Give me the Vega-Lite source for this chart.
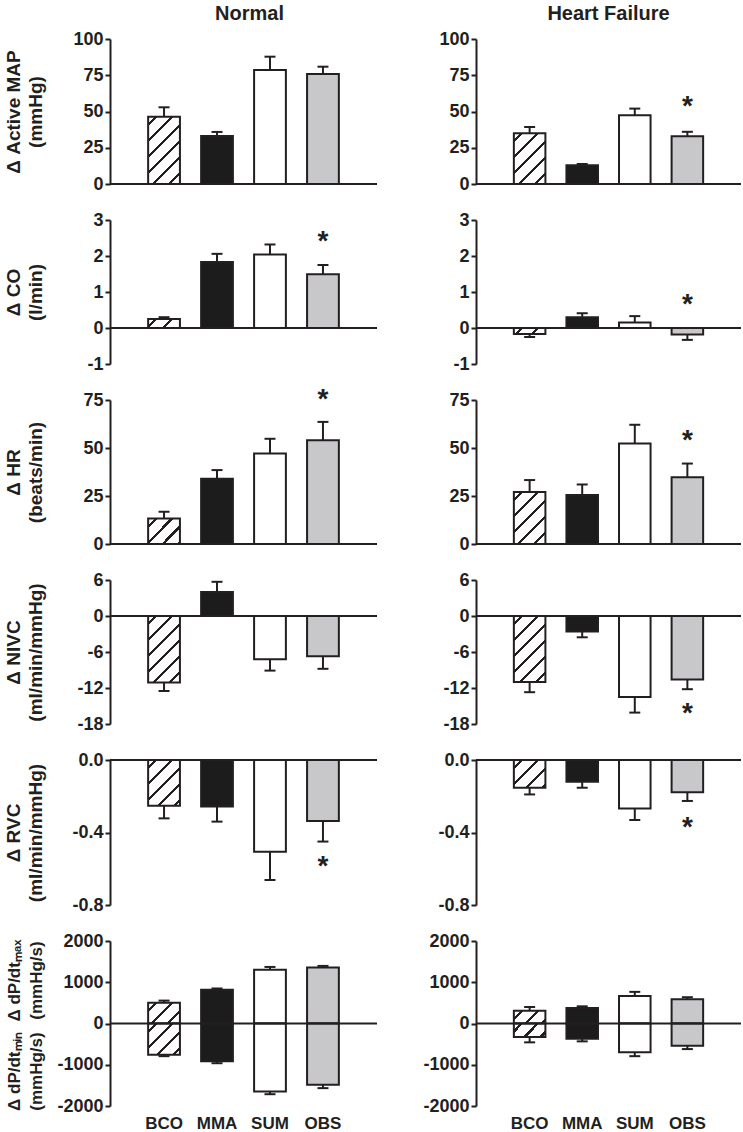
{
"$schema": "https://vega.github.io/schema/vega-lite/v6.json",
"background": "white",
"padding": {"left": 4, "top": 4, "right": 1, "bottom": 4},
"config": {
 "locale": {"number": {"decimal": ".", "thousands": ",", "grouping": [3], "currency": ["$", ""], "minus": "-"}},
 "view": {"stroke": null},
 "font": "Liberation Sans",
 "axis": {"domainColor": "#231f20", "domainWidth": 2, "tickColor": "#231f20", "tickWidth": 2, "tickSize": 5, "labelFont": "Liberation Sans", "labelFontSize": 18, "labelFontWeight": "bold", "labelColor": "#231f20", "labelPadding": 2, "labelOverlap": false, "labelFlush": false, "grid": false, "titleFont": "Liberation Sans", "titleFontSize": 19, "titleFontWeight": "bold", "titleColor": "#231f20", "titleLineHeight": 22, "titleX": -87},
 "title": {"font": "Liberation Sans", "fontSize": 20, "fontWeight": "bold", "color": "#231f20", "offset": 6, "anchor": "middle"}
},
"data": {"values": [
 {"r":"MAP","g":"N","c":"BCO","v":46.4,"e":52.9},{"r":"MAP","g":"N","c":"MMA","v":33.1,"e":35.9},{"r":"MAP","g":"N","c":"SUM","v":78.6,"e":87.8},{"r":"MAP","g":"N","c":"OBS","v":75.9,"e":80.9},
 {"r":"MAP","g":"H","c":"BCO","v":35,"e":39.3},{"r":"MAP","g":"H","c":"MMA","v":12.9,"e":13.8},{"r":"MAP","g":"H","c":"SUM","v":47.5,"e":52},{"r":"MAP","g":"H","c":"OBS","v":33,"e":36,"s":56},
 {"r":"CO","g":"N","c":"BCO","v":0.25,"e":0.3},{"r":"CO","g":"N","c":"MMA","v":1.83,"e":2.06},{"r":"CO","g":"N","c":"SUM","v":2.04,"e":2.32},{"r":"CO","g":"N","c":"OBS","v":1.49,"e":1.75,"s":2.51},
 {"r":"CO","g":"H","c":"BCO","v":-0.17,"e":-0.25},{"r":"CO","g":"H","c":"MMA","v":0.3,"e":0.41},{"r":"CO","g":"H","c":"SUM","v":0.15,"e":0.33},{"r":"CO","g":"H","c":"OBS","v":-0.18,"e":-0.33,"s":0.76},
 {"r":"HR","g":"N","c":"BCO","v":13.3,"e":16.8},{"r":"HR","g":"N","c":"MMA","v":34,"e":38.5},{"r":"HR","g":"N","c":"SUM","v":47.1,"e":54.8},{"r":"HR","g":"N","c":"OBS","v":54.1,"e":63.6,"s":77},
 {"r":"HR","g":"H","c":"BCO","v":27.1,"e":33.3},{"r":"HR","g":"H","c":"MMA","v":25.5,"e":31},{"r":"HR","g":"H","c":"SUM","v":52.4,"e":62.1},{"r":"HR","g":"H","c":"OBS","v":34.8,"e":41.9,"s":55.7},
 {"r":"NIVC","g":"N","c":"BCO","v":-11.1,"e":-12.5},{"r":"NIVC","g":"N","c":"MMA","v":4,"e":5.7},{"r":"NIVC","g":"N","c":"SUM","v":-7.2,"e":-9.1},{"r":"NIVC","g":"N","c":"OBS","v":-6.7,"e":-8.8},
 {"r":"NIVC","g":"H","c":"BCO","v":-11,"e":-12.7},{"r":"NIVC","g":"H","c":"MMA","v":-2.6,"e":-3.55},{"r":"NIVC","g":"H","c":"SUM","v":-13.5,"e":-16.1},{"r":"NIVC","g":"H","c":"OBS","v":-10.6,"e":-12.2,"s":-15.7},
 {"r":"RVC","g":"N","c":"BCO","v":-0.252,"e":-0.322},{"r":"RVC","g":"N","c":"MMA","v":-0.256,"e":-0.34},{"r":"RVC","g":"N","c":"SUM","v":-0.506,"e":-0.662},{"r":"RVC","g":"N","c":"OBS","v":-0.337,"e":-0.45,"s":-0.567},
 {"r":"RVC","g":"H","c":"BCO","v":-0.153,"e":-0.19},{"r":"RVC","g":"H","c":"MMA","v":-0.12,"e":-0.153},{"r":"RVC","g":"H","c":"SUM","v":-0.267,"e":-0.331},{"r":"RVC","g":"H","c":"OBS","v":-0.178,"e":-0.226,"s":-0.355},
 {"r":"DP","g":"N","p":"max","c":"BCO","v":506,"e":555},{"r":"DP","g":"N","p":"max","c":"MMA","v":816,"e":849},{"r":"DP","g":"N","p":"max","c":"SUM","v":1306,"e":1371},{"r":"DP","g":"N","p":"max","c":"OBS","v":1355,"e":1396},
 {"r":"DP","g":"N","p":"min","c":"BCO","v":-759,"e":-792},{"r":"DP","g":"N","p":"min","c":"MMA","v":-914,"e":-963},{"r":"DP","g":"N","p":"min","c":"SUM","v":-1649,"e":-1714},{"r":"DP","g":"N","p":"min","c":"OBS","v":-1486,"e":-1567},
 {"r":"DP","g":"H","p":"max","c":"BCO","v":310,"e":400},{"r":"DP","g":"H","p":"max","c":"MMA","v":376,"e":416},{"r":"DP","g":"H","p":"max","c":"SUM","v":669,"e":767},{"r":"DP","g":"H","p":"max","c":"OBS","v":588,"e":637},
 {"r":"DP","g":"H","p":"min","c":"BCO","v":-327,"e":-457},{"r":"DP","g":"H","p":"min","c":"MMA","v":-367,"e":-433},{"r":"DP","g":"H","p":"min","c":"SUM","v":-694,"e":-792},{"r":"DP","g":"H","p":"min","c":"OBS","v":-539,"e":-620}
]},
"columns": 2,
"bounds": "flush",
"spacing": {"row": 36, "column": 99},
"concat": [
 {"width": 267, "height": 145, "title": {"text": "Normal", "frame": "group", "dx": 6},
  "layer": [
   {"transform": [{"filter": "datum.r==='MAP' && datum.g==='N'"}],
    "encoding": {
     "x": {"field": "c", "type": "nominal", "sort": ["BCO","MMA","SUM","OBS"], "scale": {"paddingInner": 0.4, "paddingOuter": 0.72}, "axis": null},
     "y": {"field": "v", "type": "quantitative", "stack": null, "scale": {"domain": [0, 100], "nice": false, "zero": false}, "axis": {"values": [0,25,50,75,100], "tickCount": 20, "title": ["Δ Active MAP", "(mmHg)"]}}},
    "layer": [
     {"transform": [{"filter": "datum.c!=='BCO'"}], "mark": {"type": "bar", "stroke": "#231f20", "strokeWidth": 2}, "encoding": {"fill": {"field": "c", "type": "nominal", "scale": {"domain": ["MMA","SUM","OBS"], "range": ["#1c1c1c","#ffffff","#c8c8ca"]}, "legend": null}}},
     {"transform": [{"filter": "datum.c==='BCO'"}], "mark": {"type": "bar", "stroke": "#231f20", "strokeWidth": 2, "fill": {"gradient": "linear", "x1": 0, "y1": 0, "x2": 0.644, "y2": 1.359, "stops": [{"offset":0,"color":"#ffffff"},{"offset":0.0574,"color":"#ffffff"},{"offset":0.0574,"color":"#231f20"},{"offset":0.0854,"color":"#231f20"},{"offset":0.0854,"color":"#ffffff"},{"offset":0.2003,"color":"#ffffff"},{"offset":0.2003,"color":"#231f20"},{"offset":0.2283,"color":"#231f20"},{"offset":0.2283,"color":"#ffffff"},{"offset":0.3431,"color":"#ffffff"},{"offset":0.3431,"color":"#231f20"},{"offset":0.3711,"color":"#231f20"},{"offset":0.3711,"color":"#ffffff"},{"offset":0.486,"color":"#ffffff"},{"offset":0.486,"color":"#231f20"},{"offset":0.514,"color":"#231f20"},{"offset":0.514,"color":"#ffffff"},{"offset":0.6289,"color":"#ffffff"},{"offset":0.6289,"color":"#231f20"},{"offset":0.6569,"color":"#231f20"},{"offset":0.6569,"color":"#ffffff"},{"offset":0.7717,"color":"#ffffff"},{"offset":0.7717,"color":"#231f20"},{"offset":0.7997,"color":"#231f20"},{"offset":0.7997,"color":"#ffffff"},{"offset":1,"color":"#ffffff"}]}}},
     {"mark": {"type": "rule", "color": "#231f20", "strokeWidth": 2}, "encoding": {"y2": {"field": "e"}}},
     {"mark": {"type": "tick", "color": "#231f20", "size": 11, "thickness": 2, "orient": "horizontal", "opacity": 1}, "encoding": {"y": {"field": "e", "type": "quantitative"}}},
     {"transform": [{"filter": "isValid(datum.s)"}], "mark": {"type": "text", "text": "*", "fontSize": 28, "fontWeight": "bold", "color": "#231f20", "baseline": "middle", "dy": 4}, "encoding": {"y": {"field": "s", "type": "quantitative"}}}
    ]},
   {"data": {"values": [{"z": 0}]}, "mark": {"type": "rule", "color": "#231f20", "strokeWidth": 2}, "encoding": {"y": {"field": "z", "type": "quantitative"}}}
  ]},
 {"width": 265, "height": 145, "title": {"text": "Heart Failure", "frame": "group"},
  "layer": [
   {"transform": [{"filter": "datum.r==='MAP' && datum.g==='H'"}],
    "encoding": {
     "x": {"field": "c", "type": "nominal", "sort": ["BCO","MMA","SUM","OBS"], "scale": {"paddingInner": 0.4, "paddingOuter": 0.72}, "axis": null},
     "y": {"field": "v", "type": "quantitative", "stack": null, "scale": {"domain": [0, 100], "nice": false, "zero": false}, "axis": {"values": [0,25,50,75,100], "tickCount": 20, "title": null}}},
    "layer": [
     {"transform": [{"filter": "datum.c!=='BCO'"}], "mark": {"type": "bar", "stroke": "#231f20", "strokeWidth": 2}, "encoding": {"fill": {"field": "c", "type": "nominal", "scale": {"domain": ["MMA","SUM","OBS"], "range": ["#1c1c1c","#ffffff","#c8c8ca"]}, "legend": null}}},
     {"transform": [{"filter": "datum.c==='BCO'"}], "mark": {"type": "bar", "stroke": "#231f20", "strokeWidth": 2, "fill": {"gradient": "linear", "x1": 0, "y1": 0, "x2": 0.9895, "y2": 1.592, "stops": [{"offset":0,"color":"#ffffff"},{"offset":0.0574,"color":"#ffffff"},{"offset":0.0574,"color":"#231f20"},{"offset":0.0854,"color":"#231f20"},{"offset":0.0854,"color":"#ffffff"},{"offset":0.2003,"color":"#ffffff"},{"offset":0.2003,"color":"#231f20"},{"offset":0.2283,"color":"#231f20"},{"offset":0.2283,"color":"#ffffff"},{"offset":0.3431,"color":"#ffffff"},{"offset":0.3431,"color":"#231f20"},{"offset":0.3711,"color":"#231f20"},{"offset":0.3711,"color":"#ffffff"},{"offset":0.486,"color":"#ffffff"},{"offset":0.486,"color":"#231f20"},{"offset":0.514,"color":"#231f20"},{"offset":0.514,"color":"#ffffff"},{"offset":0.6289,"color":"#ffffff"},{"offset":0.6289,"color":"#231f20"},{"offset":0.6569,"color":"#231f20"},{"offset":0.6569,"color":"#ffffff"},{"offset":0.7717,"color":"#ffffff"},{"offset":0.7717,"color":"#231f20"},{"offset":0.7997,"color":"#231f20"},{"offset":0.7997,"color":"#ffffff"},{"offset":1,"color":"#ffffff"}]}}},
     {"mark": {"type": "rule", "color": "#231f20", "strokeWidth": 2}, "encoding": {"y2": {"field": "e"}}},
     {"mark": {"type": "tick", "color": "#231f20", "size": 11, "thickness": 2, "orient": "horizontal", "opacity": 1}, "encoding": {"y": {"field": "e", "type": "quantitative"}}},
     {"transform": [{"filter": "isValid(datum.s)"}], "mark": {"type": "text", "text": "*", "fontSize": 28, "fontWeight": "bold", "color": "#231f20", "baseline": "middle", "dy": 4}, "encoding": {"y": {"field": "s", "type": "quantitative"}}}
    ]},
   {"data": {"values": [{"z": 0}]}, "mark": {"type": "rule", "color": "#231f20", "strokeWidth": 2}, "encoding": {"y": {"field": "z", "type": "quantitative"}}}
  ]},
 {"width": 267, "height": 144,
  "layer": [
   {"transform": [{"filter": "datum.r==='CO' && datum.g==='N'"}],
    "encoding": {
     "x": {"field": "c", "type": "nominal", "sort": ["BCO","MMA","SUM","OBS"], "scale": {"paddingInner": 0.4, "paddingOuter": 0.72}, "axis": null},
     "y": {"field": "v", "type": "quantitative", "stack": null, "scale": {"domain": [-1, 3], "nice": false, "zero": false}, "axis": {"values": [-1,0,1,2,3], "tickCount": 20, "format": "d", "title": ["Δ CO", "(l/min)"]}}},
    "layer": [
     {"transform": [{"filter": "datum.c!=='BCO'"}], "mark": {"type": "bar", "stroke": "#231f20", "strokeWidth": 2}, "encoding": {"fill": {"field": "c", "type": "nominal", "scale": {"domain": ["MMA","SUM","OBS"], "range": ["#1c1c1c","#ffffff","#c8c8ca"]}, "legend": null}}},
     {"transform": [{"filter": "datum.c==='BCO'"}], "mark": {"type": "bar", "stroke": "#231f20", "strokeWidth": 2, "fill": {"gradient": "linear", "x1": 0, "y1": 0, "x2": 3.252, "y2": 0.9175, "stops": [{"offset":0,"color":"#ffffff"},{"offset":0.0574,"color":"#ffffff"},{"offset":0.0574,"color":"#231f20"},{"offset":0.0854,"color":"#231f20"},{"offset":0.0854,"color":"#ffffff"},{"offset":0.2003,"color":"#ffffff"},{"offset":0.2003,"color":"#231f20"},{"offset":0.2283,"color":"#231f20"},{"offset":0.2283,"color":"#ffffff"},{"offset":0.3431,"color":"#ffffff"},{"offset":0.3431,"color":"#231f20"},{"offset":0.3711,"color":"#231f20"},{"offset":0.3711,"color":"#ffffff"},{"offset":0.486,"color":"#ffffff"},{"offset":0.486,"color":"#231f20"},{"offset":0.514,"color":"#231f20"},{"offset":0.514,"color":"#ffffff"},{"offset":0.6289,"color":"#ffffff"},{"offset":0.6289,"color":"#231f20"},{"offset":0.6569,"color":"#231f20"},{"offset":0.6569,"color":"#ffffff"},{"offset":0.7717,"color":"#ffffff"},{"offset":0.7717,"color":"#231f20"},{"offset":0.7997,"color":"#231f20"},{"offset":0.7997,"color":"#ffffff"},{"offset":1,"color":"#ffffff"}]}}},
     {"mark": {"type": "rule", "color": "#231f20", "strokeWidth": 2}, "encoding": {"y2": {"field": "e"}}},
     {"mark": {"type": "tick", "color": "#231f20", "size": 11, "thickness": 2, "orient": "horizontal", "opacity": 1}, "encoding": {"y": {"field": "e", "type": "quantitative"}}},
     {"transform": [{"filter": "isValid(datum.s)"}], "mark": {"type": "text", "text": "*", "fontSize": 28, "fontWeight": "bold", "color": "#231f20", "baseline": "middle", "dy": 4}, "encoding": {"y": {"field": "s", "type": "quantitative"}}}
    ]},
   {"data": {"values": [{"z": 0}]}, "mark": {"type": "rule", "color": "#231f20", "strokeWidth": 2}, "encoding": {"y": {"field": "z", "type": "quantitative"}}}
  ]},
 {"width": 265, "height": 144,
  "layer": [
   {"transform": [{"filter": "datum.r==='CO' && datum.g==='H'"}],
    "encoding": {
     "x": {"field": "c", "type": "nominal", "sort": ["BCO","MMA","SUM","OBS"], "scale": {"paddingInner": 0.4, "paddingOuter": 0.72}, "axis": null},
     "y": {"field": "v", "type": "quantitative", "stack": null, "scale": {"domain": [-1, 3], "nice": false, "zero": false}, "axis": {"values": [-1,0,1,2,3], "tickCount": 20, "format": "d", "title": null}}},
    "layer": [
     {"transform": [{"filter": "datum.c!=='BCO'"}], "mark": {"type": "bar", "stroke": "#231f20", "strokeWidth": 2}, "encoding": {"fill": {"field": "c", "type": "nominal", "scale": {"domain": ["MMA","SUM","OBS"], "range": ["#1c1c1c","#ffffff","#c8c8ca"]}, "legend": null}}},
     {"transform": [{"filter": "datum.c==='BCO'"}], "mark": {"type": "bar", "stroke": "#231f20", "strokeWidth": 2, "fill": {"gradient": "linear", "x1": 0, "y1": 0, "x2": 3.422, "y2": 0.6616, "stops": [{"offset":0,"color":"#ffffff"},{"offset":0.0574,"color":"#ffffff"},{"offset":0.0574,"color":"#231f20"},{"offset":0.0854,"color":"#231f20"},{"offset":0.0854,"color":"#ffffff"},{"offset":0.2003,"color":"#ffffff"},{"offset":0.2003,"color":"#231f20"},{"offset":0.2283,"color":"#231f20"},{"offset":0.2283,"color":"#ffffff"},{"offset":0.3431,"color":"#ffffff"},{"offset":0.3431,"color":"#231f20"},{"offset":0.3711,"color":"#231f20"},{"offset":0.3711,"color":"#ffffff"},{"offset":0.486,"color":"#ffffff"},{"offset":0.486,"color":"#231f20"},{"offset":0.514,"color":"#231f20"},{"offset":0.514,"color":"#ffffff"},{"offset":0.6289,"color":"#ffffff"},{"offset":0.6289,"color":"#231f20"},{"offset":0.6569,"color":"#231f20"},{"offset":0.6569,"color":"#ffffff"},{"offset":0.7717,"color":"#ffffff"},{"offset":0.7717,"color":"#231f20"},{"offset":0.7997,"color":"#231f20"},{"offset":0.7997,"color":"#ffffff"},{"offset":1,"color":"#ffffff"}]}}},
     {"mark": {"type": "rule", "color": "#231f20", "strokeWidth": 2}, "encoding": {"y2": {"field": "e"}}},
     {"mark": {"type": "tick", "color": "#231f20", "size": 11, "thickness": 2, "orient": "horizontal", "opacity": 1}, "encoding": {"y": {"field": "e", "type": "quantitative"}}},
     {"transform": [{"filter": "isValid(datum.s)"}], "mark": {"type": "text", "text": "*", "fontSize": 28, "fontWeight": "bold", "color": "#231f20", "baseline": "middle", "dy": 4}, "encoding": {"y": {"field": "s", "type": "quantitative"}}}
    ]},
   {"data": {"values": [{"z": 0}]}, "mark": {"type": "rule", "color": "#231f20", "strokeWidth": 2}, "encoding": {"y": {"field": "z", "type": "quantitative"}}}
  ]},
 {"width": 267, "height": 144,
  "layer": [
   {"transform": [{"filter": "datum.r==='HR' && datum.g==='N'"}],
    "encoding": {
     "x": {"field": "c", "type": "nominal", "sort": ["BCO","MMA","SUM","OBS"], "scale": {"paddingInner": 0.4, "paddingOuter": 0.72}, "axis": null},
     "y": {"field": "v", "type": "quantitative", "stack": null, "scale": {"domain": [0, 75], "nice": false, "zero": false}, "axis": {"values": [0,25,50,75], "tickCount": 20, "title": ["Δ HR", "(beats/min)"]}}},
    "layer": [
     {"transform": [{"filter": "datum.c!=='BCO'"}], "mark": {"type": "bar", "stroke": "#231f20", "strokeWidth": 2}, "encoding": {"fill": {"field": "c", "type": "nominal", "scale": {"domain": ["MMA","SUM","OBS"], "range": ["#1c1c1c","#ffffff","#c8c8ca"]}, "legend": null}}},
     {"transform": [{"filter": "datum.c==='BCO'"}], "mark": {"type": "bar", "stroke": "#231f20", "strokeWidth": 2, "fill": {"gradient": "linear", "x1": 0, "y1": 0, "x2": 2.142, "y2": 1.712, "stops": [{"offset":0,"color":"#ffffff"},{"offset":0.0574,"color":"#ffffff"},{"offset":0.0574,"color":"#231f20"},{"offset":0.0854,"color":"#231f20"},{"offset":0.0854,"color":"#ffffff"},{"offset":0.2003,"color":"#ffffff"},{"offset":0.2003,"color":"#231f20"},{"offset":0.2283,"color":"#231f20"},{"offset":0.2283,"color":"#ffffff"},{"offset":0.3431,"color":"#ffffff"},{"offset":0.3431,"color":"#231f20"},{"offset":0.3711,"color":"#231f20"},{"offset":0.3711,"color":"#ffffff"},{"offset":0.486,"color":"#ffffff"},{"offset":0.486,"color":"#231f20"},{"offset":0.514,"color":"#231f20"},{"offset":0.514,"color":"#ffffff"},{"offset":0.6289,"color":"#ffffff"},{"offset":0.6289,"color":"#231f20"},{"offset":0.6569,"color":"#231f20"},{"offset":0.6569,"color":"#ffffff"},{"offset":0.7717,"color":"#ffffff"},{"offset":0.7717,"color":"#231f20"},{"offset":0.7997,"color":"#231f20"},{"offset":0.7997,"color":"#ffffff"},{"offset":1,"color":"#ffffff"}]}}},
     {"mark": {"type": "rule", "color": "#231f20", "strokeWidth": 2}, "encoding": {"y2": {"field": "e"}}},
     {"mark": {"type": "tick", "color": "#231f20", "size": 11, "thickness": 2, "orient": "horizontal", "opacity": 1}, "encoding": {"y": {"field": "e", "type": "quantitative"}}},
     {"transform": [{"filter": "isValid(datum.s)"}], "mark": {"type": "text", "text": "*", "fontSize": 28, "fontWeight": "bold", "color": "#231f20", "baseline": "middle", "dy": 4}, "encoding": {"y": {"field": "s", "type": "quantitative"}}}
    ]},
   {"data": {"values": [{"z": 0}]}, "mark": {"type": "rule", "color": "#231f20", "strokeWidth": 2}, "encoding": {"y": {"field": "z", "type": "quantitative"}}}
  ]},
 {"width": 265, "height": 144,
  "layer": [
   {"transform": [{"filter": "datum.r==='HR' && datum.g==='H'"}],
    "encoding": {
     "x": {"field": "c", "type": "nominal", "sort": ["BCO","MMA","SUM","OBS"], "scale": {"paddingInner": 0.4, "paddingOuter": 0.72}, "axis": null},
     "y": {"field": "v", "type": "quantitative", "stack": null, "scale": {"domain": [0, 75], "nice": false, "zero": false}, "axis": {"values": [0,25,50,75], "tickCount": 20, "title": null}}},
    "layer": [
     {"transform": [{"filter": "datum.c!=='BCO'"}], "mark": {"type": "bar", "stroke": "#231f20", "strokeWidth": 2}, "encoding": {"fill": {"field": "c", "type": "nominal", "scale": {"domain": ["MMA","SUM","OBS"], "range": ["#1c1c1c","#ffffff","#c8c8ca"]}, "legend": null}}},
     {"transform": [{"filter": "datum.c==='BCO'"}], "mark": {"type": "bar", "stroke": "#231f20", "strokeWidth": 2, "fill": {"gradient": "linear", "x1": 0, "y1": 0, "x2": 0.955, "y2": 1.574, "stops": [{"offset":0,"color":"#ffffff"},{"offset":0.0574,"color":"#ffffff"},{"offset":0.0574,"color":"#231f20"},{"offset":0.0854,"color":"#231f20"},{"offset":0.0854,"color":"#ffffff"},{"offset":0.2003,"color":"#ffffff"},{"offset":0.2003,"color":"#231f20"},{"offset":0.2283,"color":"#231f20"},{"offset":0.2283,"color":"#ffffff"},{"offset":0.3431,"color":"#ffffff"},{"offset":0.3431,"color":"#231f20"},{"offset":0.3711,"color":"#231f20"},{"offset":0.3711,"color":"#ffffff"},{"offset":0.486,"color":"#ffffff"},{"offset":0.486,"color":"#231f20"},{"offset":0.514,"color":"#231f20"},{"offset":0.514,"color":"#ffffff"},{"offset":0.6289,"color":"#ffffff"},{"offset":0.6289,"color":"#231f20"},{"offset":0.6569,"color":"#231f20"},{"offset":0.6569,"color":"#ffffff"},{"offset":0.7717,"color":"#ffffff"},{"offset":0.7717,"color":"#231f20"},{"offset":0.7997,"color":"#231f20"},{"offset":0.7997,"color":"#ffffff"},{"offset":1,"color":"#ffffff"}]}}},
     {"mark": {"type": "rule", "color": "#231f20", "strokeWidth": 2}, "encoding": {"y2": {"field": "e"}}},
     {"mark": {"type": "tick", "color": "#231f20", "size": 11, "thickness": 2, "orient": "horizontal", "opacity": 1}, "encoding": {"y": {"field": "e", "type": "quantitative"}}},
     {"transform": [{"filter": "isValid(datum.s)"}], "mark": {"type": "text", "text": "*", "fontSize": 28, "fontWeight": "bold", "color": "#231f20", "baseline": "middle", "dy": 4}, "encoding": {"y": {"field": "s", "type": "quantitative"}}}
    ]},
   {"data": {"values": [{"z": 0}]}, "mark": {"type": "rule", "color": "#231f20", "strokeWidth": 2}, "encoding": {"y": {"field": "z", "type": "quantitative"}}}
  ]},
 {"width": 267, "height": 144,
  "layer": [
   {"transform": [{"filter": "datum.r==='NIVC' && datum.g==='N'"}],
    "encoding": {
     "x": {"field": "c", "type": "nominal", "sort": ["BCO","MMA","SUM","OBS"], "scale": {"paddingInner": 0.4, "paddingOuter": 0.72}, "axis": null},
     "y": {"field": "v", "type": "quantitative", "stack": null, "scale": {"domain": [-18, 6], "nice": false, "zero": false}, "axis": {"values": [-18,-12,-6,0,6], "tickCount": 20, "format": "d", "title": ["Δ NIVC", "(ml/min/mmHg)"]}}},
    "layer": [
     {"transform": [{"filter": "datum.c!=='BCO'"}], "mark": {"type": "bar", "stroke": "#231f20", "strokeWidth": 2}, "encoding": {"fill": {"field": "c", "type": "nominal", "scale": {"domain": ["MMA","SUM","OBS"], "range": ["#1c1c1c","#ffffff","#c8c8ca"]}, "legend": null}}},
     {"transform": [{"filter": "datum.c==='BCO'"}], "mark": {"type": "bar", "stroke": "#231f20", "strokeWidth": 2, "fill": {"gradient": "linear", "x1": 0, "y1": 0, "x2": 0.655, "y2": 1.368, "stops": [{"offset":0,"color":"#ffffff"},{"offset":0.0574,"color":"#ffffff"},{"offset":0.0574,"color":"#231f20"},{"offset":0.0854,"color":"#231f20"},{"offset":0.0854,"color":"#ffffff"},{"offset":0.2003,"color":"#ffffff"},{"offset":0.2003,"color":"#231f20"},{"offset":0.2283,"color":"#231f20"},{"offset":0.2283,"color":"#ffffff"},{"offset":0.3431,"color":"#ffffff"},{"offset":0.3431,"color":"#231f20"},{"offset":0.3711,"color":"#231f20"},{"offset":0.3711,"color":"#ffffff"},{"offset":0.486,"color":"#ffffff"},{"offset":0.486,"color":"#231f20"},{"offset":0.514,"color":"#231f20"},{"offset":0.514,"color":"#ffffff"},{"offset":0.6289,"color":"#ffffff"},{"offset":0.6289,"color":"#231f20"},{"offset":0.6569,"color":"#231f20"},{"offset":0.6569,"color":"#ffffff"},{"offset":0.7717,"color":"#ffffff"},{"offset":0.7717,"color":"#231f20"},{"offset":0.7997,"color":"#231f20"},{"offset":0.7997,"color":"#ffffff"},{"offset":1,"color":"#ffffff"}]}}},
     {"mark": {"type": "rule", "color": "#231f20", "strokeWidth": 2}, "encoding": {"y2": {"field": "e"}}},
     {"mark": {"type": "tick", "color": "#231f20", "size": 11, "thickness": 2, "orient": "horizontal", "opacity": 1}, "encoding": {"y": {"field": "e", "type": "quantitative"}}},
     {"transform": [{"filter": "isValid(datum.s)"}], "mark": {"type": "text", "text": "*", "fontSize": 28, "fontWeight": "bold", "color": "#231f20", "baseline": "middle", "dy": 4}, "encoding": {"y": {"field": "s", "type": "quantitative"}}}
    ]},
   {"data": {"values": [{"z": 0}]}, "mark": {"type": "rule", "color": "#231f20", "strokeWidth": 2}, "encoding": {"y": {"field": "z", "type": "quantitative"}}}
  ]},
 {"width": 265, "height": 144,
  "layer": [
   {"transform": [{"filter": "datum.r==='NIVC' && datum.g==='H'"}],
    "encoding": {
     "x": {"field": "c", "type": "nominal", "sort": ["BCO","MMA","SUM","OBS"], "scale": {"paddingInner": 0.4, "paddingOuter": 0.72}, "axis": null},
     "y": {"field": "v", "type": "quantitative", "stack": null, "scale": {"domain": [-18, 6], "nice": false, "zero": false}, "axis": {"values": [-18,-12,-6,0,6], "tickCount": 20, "format": "d", "title": null}}},
    "layer": [
     {"transform": [{"filter": "datum.c!=='BCO'"}], "mark": {"type": "bar", "stroke": "#231f20", "strokeWidth": 2}, "encoding": {"fill": {"field": "c", "type": "nominal", "scale": {"domain": ["MMA","SUM","OBS"], "range": ["#1c1c1c","#ffffff","#c8c8ca"]}, "legend": null}}},
     {"transform": [{"filter": "datum.c==='BCO'"}], "mark": {"type": "bar", "stroke": "#231f20", "strokeWidth": 2, "fill": {"gradient": "linear", "x1": 0, "y1": 0, "x2": 0.66, "y2": 1.381, "stops": [{"offset":0,"color":"#ffffff"},{"offset":0.0574,"color":"#ffffff"},{"offset":0.0574,"color":"#231f20"},{"offset":0.0854,"color":"#231f20"},{"offset":0.0854,"color":"#ffffff"},{"offset":0.2003,"color":"#ffffff"},{"offset":0.2003,"color":"#231f20"},{"offset":0.2283,"color":"#231f20"},{"offset":0.2283,"color":"#ffffff"},{"offset":0.3431,"color":"#ffffff"},{"offset":0.3431,"color":"#231f20"},{"offset":0.3711,"color":"#231f20"},{"offset":0.3711,"color":"#ffffff"},{"offset":0.486,"color":"#ffffff"},{"offset":0.486,"color":"#231f20"},{"offset":0.514,"color":"#231f20"},{"offset":0.514,"color":"#ffffff"},{"offset":0.6289,"color":"#ffffff"},{"offset":0.6289,"color":"#231f20"},{"offset":0.6569,"color":"#231f20"},{"offset":0.6569,"color":"#ffffff"},{"offset":0.7717,"color":"#ffffff"},{"offset":0.7717,"color":"#231f20"},{"offset":0.7997,"color":"#231f20"},{"offset":0.7997,"color":"#ffffff"},{"offset":1,"color":"#ffffff"}]}}},
     {"mark": {"type": "rule", "color": "#231f20", "strokeWidth": 2}, "encoding": {"y2": {"field": "e"}}},
     {"mark": {"type": "tick", "color": "#231f20", "size": 11, "thickness": 2, "orient": "horizontal", "opacity": 1}, "encoding": {"y": {"field": "e", "type": "quantitative"}}},
     {"transform": [{"filter": "isValid(datum.s)"}], "mark": {"type": "text", "text": "*", "fontSize": 28, "fontWeight": "bold", "color": "#231f20", "baseline": "middle", "dy": 4}, "encoding": {"y": {"field": "s", "type": "quantitative"}}}
    ]},
   {"data": {"values": [{"z": 0}]}, "mark": {"type": "rule", "color": "#231f20", "strokeWidth": 2}, "encoding": {"y": {"field": "z", "type": "quantitative"}}}
  ]},
 {"width": 267, "height": 145,
  "layer": [
   {"transform": [{"filter": "datum.r==='RVC' && datum.g==='N'"}],
    "encoding": {
     "x": {"field": "c", "type": "nominal", "sort": ["BCO","MMA","SUM","OBS"], "scale": {"paddingInner": 0.4, "paddingOuter": 0.72}, "axis": null},
     "y": {"field": "v", "type": "quantitative", "stack": null, "scale": {"domain": [-0.8, 0], "nice": false, "zero": false}, "axis": {"values": [-0.8,-0.4,0], "tickCount": 20, "format": ".1f", "title": ["Δ RVC", "(ml/min/mmHg)"]}}},
    "layer": [
     {"transform": [{"filter": "datum.c!=='BCO'"}], "mark": {"type": "bar", "stroke": "#231f20", "strokeWidth": 2}, "encoding": {"fill": {"field": "c", "type": "nominal", "scale": {"domain": ["MMA","SUM","OBS"], "range": ["#1c1c1c","#ffffff","#c8c8ca"]}, "legend": null}}},
     {"transform": [{"filter": "datum.c==='BCO'"}], "mark": {"type": "bar", "stroke": "#231f20", "strokeWidth": 2, "fill": {"gradient": "linear", "x1": 0, "y1": 0, "x2": 1.15, "y2": 1.648, "stops": [{"offset":0,"color":"#ffffff"},{"offset":0.0574,"color":"#ffffff"},{"offset":0.0574,"color":"#231f20"},{"offset":0.0854,"color":"#231f20"},{"offset":0.0854,"color":"#ffffff"},{"offset":0.2003,"color":"#ffffff"},{"offset":0.2003,"color":"#231f20"},{"offset":0.2283,"color":"#231f20"},{"offset":0.2283,"color":"#ffffff"},{"offset":0.3431,"color":"#ffffff"},{"offset":0.3431,"color":"#231f20"},{"offset":0.3711,"color":"#231f20"},{"offset":0.3711,"color":"#ffffff"},{"offset":0.486,"color":"#ffffff"},{"offset":0.486,"color":"#231f20"},{"offset":0.514,"color":"#231f20"},{"offset":0.514,"color":"#ffffff"},{"offset":0.6289,"color":"#ffffff"},{"offset":0.6289,"color":"#231f20"},{"offset":0.6569,"color":"#231f20"},{"offset":0.6569,"color":"#ffffff"},{"offset":0.7717,"color":"#ffffff"},{"offset":0.7717,"color":"#231f20"},{"offset":0.7997,"color":"#231f20"},{"offset":0.7997,"color":"#ffffff"},{"offset":1,"color":"#ffffff"}]}}},
     {"mark": {"type": "rule", "color": "#231f20", "strokeWidth": 2}, "encoding": {"y2": {"field": "e"}}},
     {"mark": {"type": "tick", "color": "#231f20", "size": 11, "thickness": 2, "orient": "horizontal", "opacity": 1}, "encoding": {"y": {"field": "e", "type": "quantitative"}}},
     {"transform": [{"filter": "isValid(datum.s)"}], "mark": {"type": "text", "text": "*", "fontSize": 28, "fontWeight": "bold", "color": "#231f20", "baseline": "middle", "dy": 4}, "encoding": {"y": {"field": "s", "type": "quantitative"}}}
    ]},
   {"data": {"values": [{"z": 0}]}, "mark": {"type": "rule", "color": "#231f20", "strokeWidth": 2}, "encoding": {"y": {"field": "z", "type": "quantitative"}}}
  ]},
 {"width": 265, "height": 145,
  "layer": [
   {"transform": [{"filter": "datum.r==='RVC' && datum.g==='H'"}],
    "encoding": {
     "x": {"field": "c", "type": "nominal", "sort": ["BCO","MMA","SUM","OBS"], "scale": {"paddingInner": 0.4, "paddingOuter": 0.72}, "axis": null},
     "y": {"field": "v", "type": "quantitative", "stack": null, "scale": {"domain": [-0.8, 0], "nice": false, "zero": false}, "axis": {"values": [-0.8,-0.4,0], "tickCount": 20, "format": ".1f", "title": null}}},
    "layer": [
     {"transform": [{"filter": "datum.c!=='BCO'"}], "mark": {"type": "bar", "stroke": "#231f20", "strokeWidth": 2}, "encoding": {"fill": {"field": "c", "type": "nominal", "scale": {"domain": ["MMA","SUM","OBS"], "range": ["#1c1c1c","#ffffff","#c8c8ca"]}, "legend": null}}},
     {"transform": [{"filter": "datum.c==='BCO'"}], "mark": {"type": "bar", "stroke": "#231f20", "strokeWidth": 2, "fill": {"gradient": "linear", "x1": 0, "y1": 0, "x2": 2.005, "y2": 1.76, "stops": [{"offset":0,"color":"#ffffff"},{"offset":0.0574,"color":"#ffffff"},{"offset":0.0574,"color":"#231f20"},{"offset":0.0854,"color":"#231f20"},{"offset":0.0854,"color":"#ffffff"},{"offset":0.2003,"color":"#ffffff"},{"offset":0.2003,"color":"#231f20"},{"offset":0.2283,"color":"#231f20"},{"offset":0.2283,"color":"#ffffff"},{"offset":0.3431,"color":"#ffffff"},{"offset":0.3431,"color":"#231f20"},{"offset":0.3711,"color":"#231f20"},{"offset":0.3711,"color":"#ffffff"},{"offset":0.486,"color":"#ffffff"},{"offset":0.486,"color":"#231f20"},{"offset":0.514,"color":"#231f20"},{"offset":0.514,"color":"#ffffff"},{"offset":0.6289,"color":"#ffffff"},{"offset":0.6289,"color":"#231f20"},{"offset":0.6569,"color":"#231f20"},{"offset":0.6569,"color":"#ffffff"},{"offset":0.7717,"color":"#ffffff"},{"offset":0.7717,"color":"#231f20"},{"offset":0.7997,"color":"#231f20"},{"offset":0.7997,"color":"#ffffff"},{"offset":1,"color":"#ffffff"}]}}},
     {"mark": {"type": "rule", "color": "#231f20", "strokeWidth": 2}, "encoding": {"y2": {"field": "e"}}},
     {"mark": {"type": "tick", "color": "#231f20", "size": 11, "thickness": 2, "orient": "horizontal", "opacity": 1}, "encoding": {"y": {"field": "e", "type": "quantitative"}}},
     {"transform": [{"filter": "isValid(datum.s)"}], "mark": {"type": "text", "text": "*", "fontSize": 28, "fontWeight": "bold", "color": "#231f20", "baseline": "middle", "dy": 4}, "encoding": {"y": {"field": "s", "type": "quantitative"}}}
    ]},
   {"data": {"values": [{"z": 0}]}, "mark": {"type": "rule", "color": "#231f20", "strokeWidth": 2}, "encoding": {"y": {"field": "z", "type": "quantitative"}}}
  ]},
 {"width": 267, "height": 165,
  "resolve": {"axis": {"y": "independent"}},
  "layer": [
   {"transform": [{"filter": "datum.r==='DP' && datum.g==='N'"}],
    "encoding": {
     "x": {"field": "c", "type": "nominal", "sort": ["BCO","MMA","SUM","OBS"], "scale": {"paddingInner": 0.4, "paddingOuter": 0.72}, "axis": {"title": null, "domain": false, "ticks": false, "labelAngle": 0, "labelPadding": 9, "labelFontSize": 17}},
     "y": {"field": "v", "type": "quantitative", "stack": null, "scale": {"domain": [-2000, 2000], "nice": false, "zero": false}, "axis": {"values": [-2000,-1000,0,1000,2000], "tickCount": 20, "format": "d", "title": ["Δ dP/dtₘᵢₙ", "(mmHg/s)"], "titleFontSize": 17, "titleY": 130}}},
    "layer": [
     {"transform": [{"filter": "datum.c!=='BCO'"}], "mark": {"type": "bar", "stroke": "#231f20", "strokeWidth": 2}, "encoding": {"fill": {"field": "c", "type": "nominal", "scale": {"domain": ["MMA","SUM","OBS"], "range": ["#1c1c1c","#ffffff","#c8c8ca"]}, "legend": null}}},
     {"transform": [{"filter": "datum.c==='BCO' && datum.p==='max'"}], "mark": {"type": "bar", "stroke": "#231f20", "strokeWidth": 2, "fill": {"gradient": "linear", "x1": 0, "y1": 0, "x2": 2.478, "y2": 1.6, "stops": [{"offset":0,"color":"#ffffff"},{"offset":0.0574,"color":"#ffffff"},{"offset":0.0574,"color":"#231f20"},{"offset":0.0854,"color":"#231f20"},{"offset":0.0854,"color":"#ffffff"},{"offset":0.2003,"color":"#ffffff"},{"offset":0.2003,"color":"#231f20"},{"offset":0.2283,"color":"#231f20"},{"offset":0.2283,"color":"#ffffff"},{"offset":0.3431,"color":"#ffffff"},{"offset":0.3431,"color":"#231f20"},{"offset":0.3711,"color":"#231f20"},{"offset":0.3711,"color":"#ffffff"},{"offset":0.486,"color":"#ffffff"},{"offset":0.486,"color":"#231f20"},{"offset":0.514,"color":"#231f20"},{"offset":0.514,"color":"#ffffff"},{"offset":0.6289,"color":"#ffffff"},{"offset":0.6289,"color":"#231f20"},{"offset":0.6569,"color":"#231f20"},{"offset":0.6569,"color":"#ffffff"},{"offset":0.7717,"color":"#ffffff"},{"offset":0.7717,"color":"#231f20"},{"offset":0.7997,"color":"#231f20"},{"offset":0.7997,"color":"#ffffff"},{"offset":1,"color":"#ffffff"}]}}},
     {"transform": [{"filter": "datum.c==='BCO' && datum.p==='min'"}], "mark": {"type": "bar", "stroke": "#231f20", "strokeWidth": 2, "fill": {"gradient": "linear", "x1": 0, "y1": 0, "x2": 1.811, "y2": 1.755, "stops": [{"offset":0,"color":"#ffffff"},{"offset":0.0574,"color":"#ffffff"},{"offset":0.0574,"color":"#231f20"},{"offset":0.0854,"color":"#231f20"},{"offset":0.0854,"color":"#ffffff"},{"offset":0.2003,"color":"#ffffff"},{"offset":0.2003,"color":"#231f20"},{"offset":0.2283,"color":"#231f20"},{"offset":0.2283,"color":"#ffffff"},{"offset":0.3431,"color":"#ffffff"},{"offset":0.3431,"color":"#231f20"},{"offset":0.3711,"color":"#231f20"},{"offset":0.3711,"color":"#ffffff"},{"offset":0.486,"color":"#ffffff"},{"offset":0.486,"color":"#231f20"},{"offset":0.514,"color":"#231f20"},{"offset":0.514,"color":"#ffffff"},{"offset":0.6289,"color":"#ffffff"},{"offset":0.6289,"color":"#231f20"},{"offset":0.6569,"color":"#231f20"},{"offset":0.6569,"color":"#ffffff"},{"offset":0.7717,"color":"#ffffff"},{"offset":0.7717,"color":"#231f20"},{"offset":0.7997,"color":"#231f20"},{"offset":0.7997,"color":"#ffffff"},{"offset":1,"color":"#ffffff"}]}}},
     {"mark": {"type": "rule", "color": "#231f20", "strokeWidth": 2}, "encoding": {"y2": {"field": "e"}}},
     {"mark": {"type": "tick", "color": "#231f20", "size": 11, "thickness": 2, "orient": "horizontal", "opacity": 1}, "encoding": {"y": {"field": "e", "type": "quantitative"}}}
    ]},
   {"data": {"values": [{"z": 0}]}, "mark": {"type": "rule", "color": "#231f20", "strokeWidth": 2}, "encoding": {"y": {"field": "z", "type": "quantitative", "axis": {"orient": "left", "domain": false, "ticks": false, "labels": false, "title": ["Δ dP/dtₘₐₓ", "(mmHg/s)"], "titleFontSize": 17, "titleY": 39}}}}
  ]},
 {"width": 265, "height": 165,
  "layer": [
   {"transform": [{"filter": "datum.r==='DP' && datum.g==='H'"}],
    "encoding": {
     "x": {"field": "c", "type": "nominal", "sort": ["BCO","MMA","SUM","OBS"], "scale": {"paddingInner": 0.4, "paddingOuter": 0.72}, "axis": {"title": null, "domain": false, "ticks": false, "labelAngle": 0, "labelPadding": 9, "labelFontSize": 17}},
     "y": {"field": "v", "type": "quantitative", "stack": null, "scale": {"domain": [-2000, 2000], "nice": false, "zero": false}, "axis": {"values": [-2000,-1000,0,1000,2000], "tickCount": 20, "format": "d", "title": null}}},
    "layer": [
     {"transform": [{"filter": "datum.c!=='BCO'"}], "mark": {"type": "bar", "stroke": "#231f20", "strokeWidth": 2}, "encoding": {"fill": {"field": "c", "type": "nominal", "scale": {"domain": ["MMA","SUM","OBS"], "range": ["#1c1c1c","#ffffff","#c8c8ca"]}, "legend": null}}},
     {"transform": [{"filter": "datum.c==='BCO' && datum.p==='max'"}], "mark": {"type": "bar", "stroke": "#231f20", "strokeWidth": 2, "fill": {"gradient": "linear", "x1": 0, "y1": 0, "x2": 3.062, "y2": 1.223, "stops": [{"offset":0,"color":"#ffffff"},{"offset":0.0574,"color":"#ffffff"},{"offset":0.0574,"color":"#231f20"},{"offset":0.0854,"color":"#231f20"},{"offset":0.0854,"color":"#ffffff"},{"offset":0.2003,"color":"#ffffff"},{"offset":0.2003,"color":"#231f20"},{"offset":0.2283,"color":"#231f20"},{"offset":0.2283,"color":"#ffffff"},{"offset":0.3431,"color":"#ffffff"},{"offset":0.3431,"color":"#231f20"},{"offset":0.3711,"color":"#231f20"},{"offset":0.3711,"color":"#ffffff"},{"offset":0.486,"color":"#ffffff"},{"offset":0.486,"color":"#231f20"},{"offset":0.514,"color":"#231f20"},{"offset":0.514,"color":"#ffffff"},{"offset":0.6289,"color":"#ffffff"},{"offset":0.6289,"color":"#231f20"},{"offset":0.6569,"color":"#231f20"},{"offset":0.6569,"color":"#ffffff"},{"offset":0.7717,"color":"#ffffff"},{"offset":0.7717,"color":"#231f20"},{"offset":0.7997,"color":"#231f20"},{"offset":0.7997,"color":"#ffffff"},{"offset":1,"color":"#ffffff"}]}}},
     {"transform": [{"filter": "datum.c==='BCO' && datum.p==='min'"}], "mark": {"type": "bar", "stroke": "#231f20", "strokeWidth": 2, "fill": {"gradient": "linear", "x1": 0, "y1": 0, "x2": 3.014, "y2": 1.271, "stops": [{"offset":0,"color":"#ffffff"},{"offset":0.0574,"color":"#ffffff"},{"offset":0.0574,"color":"#231f20"},{"offset":0.0854,"color":"#231f20"},{"offset":0.0854,"color":"#ffffff"},{"offset":0.2003,"color":"#ffffff"},{"offset":0.2003,"color":"#231f20"},{"offset":0.2283,"color":"#231f20"},{"offset":0.2283,"color":"#ffffff"},{"offset":0.3431,"color":"#ffffff"},{"offset":0.3431,"color":"#231f20"},{"offset":0.3711,"color":"#231f20"},{"offset":0.3711,"color":"#ffffff"},{"offset":0.486,"color":"#ffffff"},{"offset":0.486,"color":"#231f20"},{"offset":0.514,"color":"#231f20"},{"offset":0.514,"color":"#ffffff"},{"offset":0.6289,"color":"#ffffff"},{"offset":0.6289,"color":"#231f20"},{"offset":0.6569,"color":"#231f20"},{"offset":0.6569,"color":"#ffffff"},{"offset":0.7717,"color":"#ffffff"},{"offset":0.7717,"color":"#231f20"},{"offset":0.7997,"color":"#231f20"},{"offset":0.7997,"color":"#ffffff"},{"offset":1,"color":"#ffffff"}]}}},
     {"mark": {"type": "rule", "color": "#231f20", "strokeWidth": 2}, "encoding": {"y2": {"field": "e"}}},
     {"mark": {"type": "tick", "color": "#231f20", "size": 11, "thickness": 2, "orient": "horizontal", "opacity": 1}, "encoding": {"y": {"field": "e", "type": "quantitative"}}}
    ]},
   {"data": {"values": [{"z": 0}]}, "mark": {"type": "rule", "color": "#231f20", "strokeWidth": 2}, "encoding": {"y": {"field": "z", "type": "quantitative"}}}
  ]}
]
}
